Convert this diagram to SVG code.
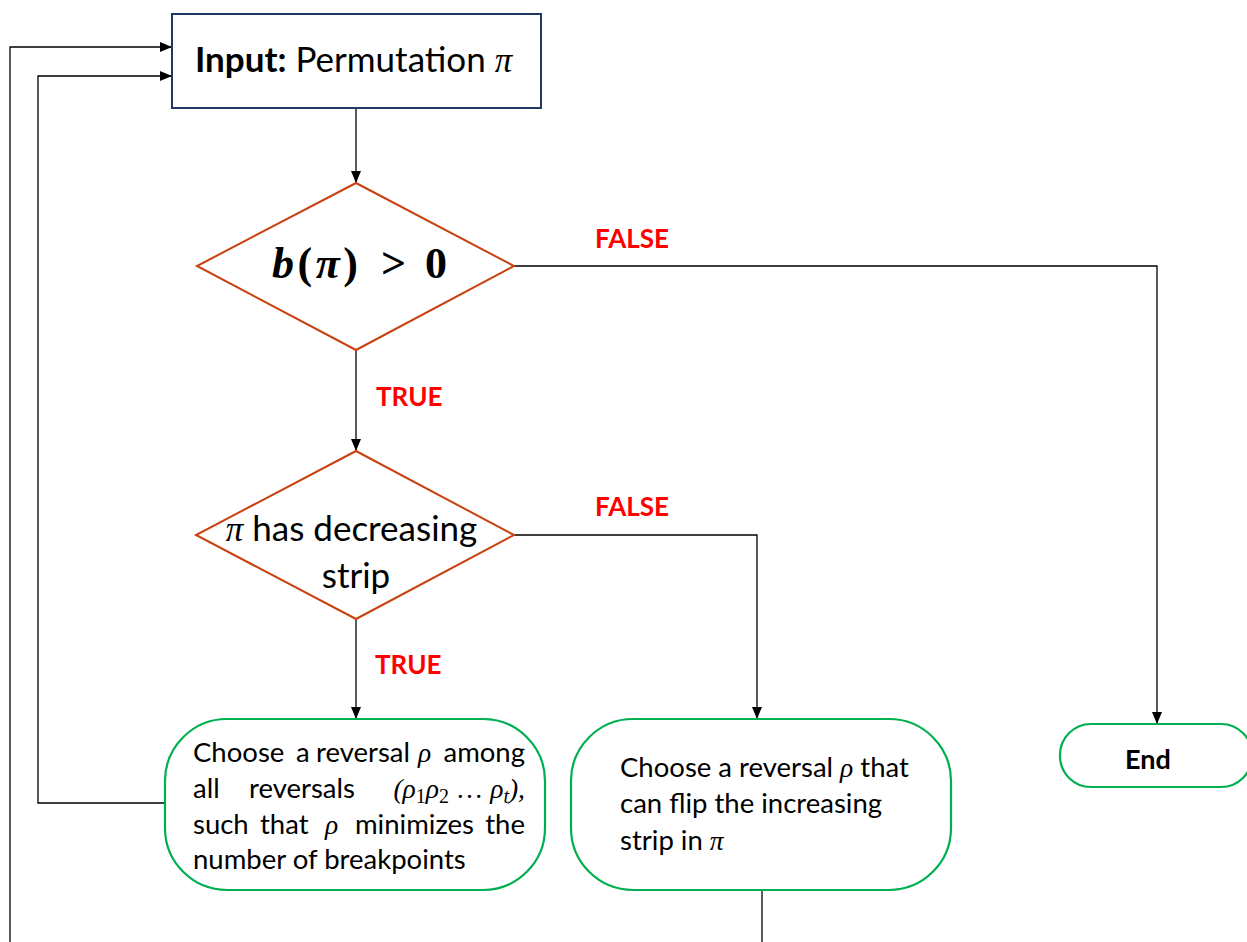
<svg xmlns="http://www.w3.org/2000/svg" width="1247" height="942" viewBox="0 0 1247 942">
  <defs>
    <marker id="arrow" viewBox="0 0 12 10" refX="12" refY="5" markerWidth="12" markerHeight="10" markerUnits="userSpaceOnUse" orient="auto">
      <path d="M0,0 L12,5 L0,10 Z" fill="#000"/>
    </marker>
    <style>
      .conn { fill: none; stroke: #000; stroke-width: 1.3; }
      .arr { marker-end: url(#arrow); }
      .box { fill: #fff; stroke: #1F3864; stroke-width: 2; }
      .dec { fill: #fff; stroke: #C8410F; stroke-width: 2; }
      .term { fill: #fff; stroke: #00B050; stroke-width: 2.2; }
      .txt { font-family: Lato, "Open Sans", "Liberation Sans", sans-serif; fill: #000; }
      .body { font-size: 27.5px; }
      .end { text-anchor: end; }
      .math { font-family: "Liberation Serif", "DejaVu Serif", serif; font-style: italic; }
      .lbl { font-family: Lato, "Open Sans", "Liberation Sans", sans-serif; font-weight: bold; font-size: 26px; fill: #FF0000; }
      .cond { font-family: "Liberation Serif", "DejaVu Serif", serif; font-weight: bold; font-size: 44px; fill: #000; }
    </style>
  </defs>
  <rect width="1247" height="942" fill="#fff"/>

  <g id="connectors">
    <path class="conn arr" d="M10,942 V47 H172"/>
    <path class="conn arr" d="M165,803 H38 V76 H172"/>
    <path class="conn arr" d="M356,108 V183"/>
    <path class="conn arr" d="M514,266 H1157 V724"/>
    <path class="conn arr" d="M356,350 V451"/>
    <path class="conn arr" d="M514,535 H757 V719"/>
    <path class="conn arr" d="M356,619 V719"/>
    <path class="conn" d="M762,890 V942"/>
    <text class="lbl" x="595" y="248">FALSE</text>
    <text class="lbl" x="376" y="406">TRUE</text>
    <text class="lbl" x="595" y="516">FALSE</text>
    <text class="lbl" x="375" y="674">TRUE</text>
  </g>

  <g id="input">
    <rect class="box" x="172" y="14" width="369" height="94"/>
    <text class="txt" x="195" y="72" font-size="35"><tspan font-weight="bold">Input:</tspan> Permutation <tspan class="math">π</tspan></text>
  </g>

  <g id="check-breakpoints">
    <polygon class="dec" points="356,183 514,266 356,350 197,266"/>
    <text class="cond" x="272" y="278" textLength="86" lengthAdjust="spacing"><tspan font-style="italic">b</tspan>(<tspan font-style="italic">π</tspan>)</text>
    <text class="cond" x="381" y="278" font-weight="normal">&gt;</text>
    <text class="cond" x="425" y="278">0</text>
  </g>

  <g id="check-strip">
    <polygon class="dec" points="356,451 514,535 356,619 196,535"/>
    <text class="txt" font-size="35" text-anchor="middle">
      <tspan x="356" y="541"><tspan class="math">π</tspan> has decreasing</tspan>
      <tspan x="356" y="588">strip</tspan>
    </text>
  </g>

  <g id="min-breakpoints">
    <rect class="term" x="165" y="719" width="380" height="171" rx="62" ry="62"/>
    <!-- justified paragraph: each word placed on its own -->
    <text class="txt body" y="762"><tspan x="193">Choose</tspan><tspan x="296">a</tspan><tspan x="316">reversal</tspan><tspan x="418" class="math">ρ</tspan></text>
    <text class="txt body end" x="525" y="762">among</text>
    <text class="txt body" y="798"><tspan x="193">all</tspan><tspan x="249">reversals</tspan></text>
    <text class="txt body end math" x="525" y="798" font-size="29">(ρ<tspan font-style="normal" font-size="20" dy="5">1</tspan><tspan dy="-5">ρ</tspan><tspan font-style="normal" font-size="20" dy="5">2</tspan><tspan font-style="normal" dy="-5"> … </tspan><tspan>ρ</tspan><tspan font-size="20" dy="5">t</tspan><tspan dy="-5">),</tspan></text>
    <text class="txt body" y="834"><tspan x="193">such</tspan><tspan x="260">that</tspan><tspan x="325" class="math">ρ</tspan><tspan x="355">minimizes</tspan></text>
    <text class="txt body end" x="525" y="834">the</text>
    <text class="txt body" x="193" y="869">number of breakpoints</text>
  </g>

  <g id="flip-strip">
    <rect class="term" x="571" y="719" width="380" height="171" rx="62" ry="62"/>
    <text class="txt body">
      <tspan x="620" y="777">Choose a reversal <tspan class="math">ρ</tspan> that</tspan>
      <tspan x="620" y="813">can flip the increasing</tspan>
      <tspan x="620" y="850">strip in <tspan class="math">π</tspan></tspan>
    </text>
  </g>

  <g id="end">
    <rect class="term" x="1060" y="724" width="192" height="63" rx="31" ry="31"/>
    <text class="txt" x="1148" y="769" font-size="27" font-weight="bold" text-anchor="middle">End</text>
  </g>
</svg>
